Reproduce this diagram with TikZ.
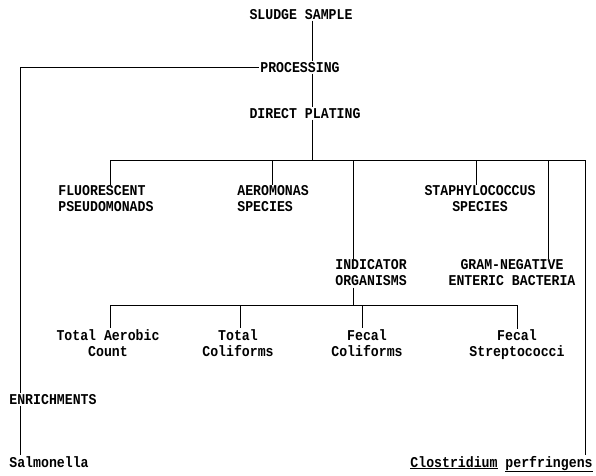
\documentclass[tikz,border=0pt]{standalone}
\usepackage{fontspec}
\setmonofont[FakeStretch=0.88]{Liberation Mono}

\begin{document}
\begin{tikzpicture}[x=1pt,y=-1pt,line width=0.8pt,
    lbl/.style={font=\fontsize{15}{16}\selectfont\ttfamily\bfseries,inner sep=1pt,align=center}]
    \useasboundingbox (0,0) rectangle (596,475);
    % main stem
    \node[lbl,anchor=base] (sludge) at (301,19) {SLUDGE SAMPLE};
    \node[lbl,anchor=base] (proc) at (300,72) {PROCESSING};
    \node[lbl,anchor=base] (direct) at (305,118) {DIRECT PLATING};
    % direct plating branch
    \node[lbl,align=left,anchor=west] (fluor) at (57,199) {FLUORESCENT\\PSEUDOMONADS};
    \node[lbl,align=left,anchor=west] (aero) at (236,199) {AEROMONAS\\SPECIES};
    \node[lbl] (staph) at (480,199) {STAPHYLOCOCCUS\\SPECIES};
    \node[lbl,align=left,anchor=west] (indic) at (334,273) {INDICATOR\\ORGANISMS};
    \node[lbl] (gram) at (512,273) {GRAM-NEGATIVE\\ENTERIC BACTERIA};
    % indicator organisms
    \node[lbl] (aerob) at (108,343) {Total Aerobic\\Count};
    \node[lbl] (tcoli) at (238,343) {Total\\Coliforms};
    \node[lbl] (fcoli) at (367,343) {Fecal\\Coliforms};
    \node[lbl] (fstrep) at (517,345) {Fecal\\Streptococci};
    % enrichments
    \node[lbl,anchor=base west] (enrich) at (8,404) {ENRICHMENTS};
    \node[lbl,anchor=base west] (salm) at (8,467) {Salmonella};
    \node[lbl,anchor=base east] (clos) at (594,467) {\underline{Clostridium} \underline{perfringens}};

    \coordinate (bar1) at (312,160);
    \coordinate (bar2) at (353,305);
    \coordinate (lft) at (20,67);
    \coordinate (dFl) at (110,160);
    \coordinate (dAe) at (272,160);
    \coordinate (dIn) at (353,160);
    \coordinate (dSt) at (476,160);
    \coordinate (dGr) at (548,160);
    \coordinate (dCl) at (585,160);
    \coordinate (dTa) at (110,305);
    \coordinate (dTc) at (240,305);
    \coordinate (dFc) at (362,305);
    \coordinate (dFs) at (517,305);

    \draw (sludge.south -| bar1) -- (proc.north -| bar1);
    \draw (proc.south -| bar1) -- (direct.north -| bar1);
    \draw (direct.south -| bar1) -- (bar1);
    \draw (dFl) -- (dCl);
    \draw (dFl) -- (dFl |- fluor.north);
    \draw (dAe) -- (dAe |- aero.north);
    \draw (dIn) -- (dIn |- indic.north);
    \draw (dSt) -- (dSt |- staph.north);
    \draw (dGr) -- (dGr |- gram.north);
    \draw (dCl) -- (dCl |- clos.north);

    \draw (indic.south -| bar2) -- (bar2);
    \draw (dTa) -- (dFs);
    \draw (dTa) -- (dTa |- aerob.north);
    \draw (dTc) -- (dTc |- tcoli.north);
    \draw (dFc) -- (dFc |- fcoli.north);
    \draw (dFs) -- (dFs |- fstrep.north);

    \draw (proc.west) -- (proc.west -| lft) -- (enrich.north -| lft);
    \draw (enrich.south -| lft) -- (salm.north -| lft);
\end{tikzpicture}
\end{document}
